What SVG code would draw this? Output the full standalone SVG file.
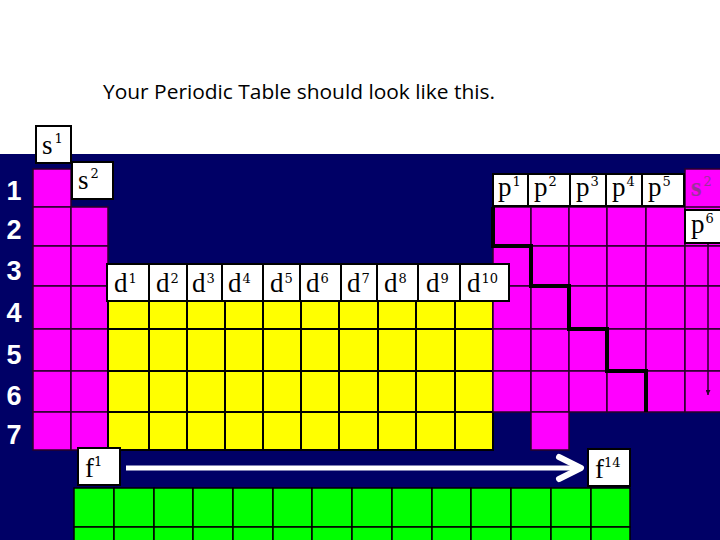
<svg xmlns="http://www.w3.org/2000/svg" width="720" height="540" viewBox="0 0 720 540">
<style>
.pk{fill:#FF00FF;stroke:#2a002a;stroke-width:1.5}
.yl{fill:#FFFF00;stroke:#000;stroke-width:2}
.gr{fill:#00FF00;stroke:#000;stroke-width:1.5}
.lbl{fill:#fff;stroke:#000;stroke-width:2}
.t{font-family:"Liberation Serif","Times New Roman",serif;font-size:27px;fill:#000}
.sup{font-family:"DejaVu Serif","Liberation Serif",serif;font-size:13px}
.num{font-family:"Liberation Sans",Arial,sans-serif;font-size:27px;font-weight:bold;fill:#fff;text-anchor:middle}
</style>
<defs>
<marker id="ah" viewBox="0 0 8 8" refX="8" refY="4" markerWidth="5" markerHeight="5" orient="auto" markerUnits="userSpaceOnUse">
<path d="M0,0 L8,4 L0,8 Z" fill="#2a002a"/>
</marker>
</defs>
<rect x="0" y="0" width="720" height="540" fill="#fff"/>
<rect x="0" y="154" width="720" height="386" fill="#000066"/>
<text x="103" y="99" font-family="'Open Sans','Liberation Sans',sans-serif" font-size="20" fill="#000" textLength="392" lengthAdjust="spacingAndGlyphs">Your Periodic Table should look like this.</text>

<g id="period-numbers">
<text class="num" x="14" y="200">1</text>
<text class="num" x="14" y="239">2</text>
<text class="num" x="14" y="280">3</text>
<text class="num" x="14" y="322">4</text>
<text class="num" x="14" y="364">5</text>
<text class="num" x="14" y="405">6</text>
<text class="num" x="14" y="444">7</text>
</g>

<g id="s-block">
<rect class="pk" x="33" y="169" width="38" height="38"/>
<rect class="pk" x="33" y="207" width="38" height="39"/>
<rect class="pk" x="33" y="246" width="38" height="40"/>
<rect class="pk" x="33" y="286" width="38" height="43"/>
<rect class="pk" x="33" y="329" width="38" height="42"/>
<rect class="pk" x="33" y="371" width="38" height="41"/>
<rect class="pk" x="33" y="412" width="38" height="38"/>
<rect class="pk" x="71" y="207" width="37" height="39"/>
<rect class="pk" x="71" y="246" width="37" height="40"/>
<rect class="pk" x="71" y="286" width="37" height="43"/>
<rect class="pk" x="71" y="329" width="37" height="42"/>
<rect class="pk" x="71" y="371" width="37" height="41"/>
<rect class="pk" x="71" y="412" width="37" height="38"/>
</g>

<g id="d-block">
<rect class="yl" x="108" y="286" width="41" height="43"/><rect class="yl" x="149" y="286" width="38" height="43"/><rect class="yl" x="187" y="286" width="38" height="43"/><rect class="yl" x="225" y="286" width="38" height="43"/><rect class="yl" x="263" y="286" width="38" height="43"/><rect class="yl" x="301" y="286" width="38" height="43"/><rect class="yl" x="339" y="286" width="39" height="43"/><rect class="yl" x="378" y="286" width="38" height="43"/><rect class="yl" x="416" y="286" width="39" height="43"/><rect class="yl" x="455" y="286" width="38" height="43"/>
<rect class="yl" x="108" y="329" width="41" height="42"/><rect class="yl" x="149" y="329" width="38" height="42"/><rect class="yl" x="187" y="329" width="38" height="42"/><rect class="yl" x="225" y="329" width="38" height="42"/><rect class="yl" x="263" y="329" width="38" height="42"/><rect class="yl" x="301" y="329" width="38" height="42"/><rect class="yl" x="339" y="329" width="39" height="42"/><rect class="yl" x="378" y="329" width="38" height="42"/><rect class="yl" x="416" y="329" width="39" height="42"/><rect class="yl" x="455" y="329" width="38" height="42"/>
<rect class="yl" x="108" y="371" width="41" height="41"/><rect class="yl" x="149" y="371" width="38" height="41"/><rect class="yl" x="187" y="371" width="38" height="41"/><rect class="yl" x="225" y="371" width="38" height="41"/><rect class="yl" x="263" y="371" width="38" height="41"/><rect class="yl" x="301" y="371" width="38" height="41"/><rect class="yl" x="339" y="371" width="39" height="41"/><rect class="yl" x="378" y="371" width="38" height="41"/><rect class="yl" x="416" y="371" width="39" height="41"/><rect class="yl" x="455" y="371" width="38" height="41"/>
<rect class="yl" x="108" y="412" width="41" height="38"/><rect class="yl" x="149" y="412" width="38" height="38"/><rect class="yl" x="187" y="412" width="38" height="38"/><rect class="yl" x="225" y="412" width="38" height="38"/><rect class="yl" x="263" y="412" width="38" height="38"/><rect class="yl" x="301" y="412" width="38" height="38"/><rect class="yl" x="339" y="412" width="39" height="38"/><rect class="yl" x="378" y="412" width="38" height="38"/><rect class="yl" x="416" y="412" width="39" height="38"/><rect class="yl" x="455" y="412" width="38" height="38"/>
</g>

<g id="p-block">
<rect class="pk" x="493" y="207" width="38" height="39"/><rect class="pk" x="531" y="207" width="38" height="39"/><rect class="pk" x="569" y="207" width="38" height="39"/><rect class="pk" x="607" y="207" width="39" height="39"/><rect class="pk" x="646" y="207" width="39" height="39"/>
<rect class="pk" x="493" y="246" width="38" height="40"/><rect class="pk" x="531" y="246" width="38" height="40"/><rect class="pk" x="569" y="246" width="38" height="40"/><rect class="pk" x="607" y="246" width="39" height="40"/><rect class="pk" x="646" y="246" width="39" height="40"/>
<rect class="pk" x="493" y="286" width="38" height="43"/><rect class="pk" x="531" y="286" width="38" height="43"/><rect class="pk" x="569" y="286" width="38" height="43"/><rect class="pk" x="607" y="286" width="39" height="43"/><rect class="pk" x="646" y="286" width="39" height="43"/>
<rect class="pk" x="493" y="329" width="38" height="42"/><rect class="pk" x="531" y="329" width="38" height="42"/><rect class="pk" x="569" y="329" width="38" height="42"/><rect class="pk" x="607" y="329" width="39" height="42"/><rect class="pk" x="646" y="329" width="39" height="42"/>
<rect class="pk" x="493" y="371" width="38" height="41"/><rect class="pk" x="531" y="371" width="38" height="41"/><rect class="pk" x="569" y="371" width="38" height="41"/><rect class="pk" x="607" y="371" width="39" height="41"/><rect class="pk" x="646" y="371" width="39" height="41"/>
<rect class="pk" x="531" y="412" width="38" height="38"/>
<rect class="pk" x="685" y="169" width="40" height="41"/>
<rect class="pk" x="685" y="207" width="40" height="39"/>
<rect class="pk" x="685" y="246" width="40" height="40"/>
<rect class="pk" x="685" y="286" width="40" height="43"/>
<rect class="pk" x="685" y="329" width="40" height="42"/>
<rect class="pk" x="685" y="371" width="40" height="41"/>
<text x="691" y="196" font-family="'Liberation Serif',serif" font-size="27" font-weight="bold" fill="#993399">s<tspan font-family="'DejaVu Serif',serif" font-size="13" font-weight="normal" dx="2" dy="-10">2</tspan></text>
</g>

<g id="f-block">
<rect class="gr" x="74" y="488" width="40" height="39"/><rect class="gr" x="114" y="488" width="40" height="39"/><rect class="gr" x="154" y="488" width="39" height="39"/><rect class="gr" x="193" y="488" width="40" height="39"/><rect class="gr" x="233" y="488" width="40" height="39"/><rect class="gr" x="273" y="488" width="39" height="39"/><rect class="gr" x="312" y="488" width="40" height="39"/><rect class="gr" x="352" y="488" width="40" height="39"/><rect class="gr" x="392" y="488" width="40" height="39"/><rect class="gr" x="432" y="488" width="39" height="39"/><rect class="gr" x="471" y="488" width="40" height="39"/><rect class="gr" x="511" y="488" width="40" height="39"/><rect class="gr" x="551" y="488" width="40" height="39"/><rect class="gr" x="591" y="488" width="39" height="39"/>
<rect class="gr" x="74" y="527" width="40" height="40"/><rect class="gr" x="114" y="527" width="40" height="40"/><rect class="gr" x="154" y="527" width="39" height="40"/><rect class="gr" x="193" y="527" width="40" height="40"/><rect class="gr" x="233" y="527" width="40" height="40"/><rect class="gr" x="273" y="527" width="39" height="40"/><rect class="gr" x="312" y="527" width="40" height="40"/><rect class="gr" x="352" y="527" width="40" height="40"/><rect class="gr" x="392" y="527" width="40" height="40"/><rect class="gr" x="432" y="527" width="39" height="40"/><rect class="gr" x="471" y="527" width="40" height="40"/><rect class="gr" x="511" y="527" width="40" height="40"/><rect class="gr" x="551" y="527" width="40" height="40"/><rect class="gr" x="591" y="527" width="39" height="40"/>
</g>

<g id="connectors">
<polyline points="493,207 493,246 531,246 531,286 569,286 569,329 607,329 607,371 646,371 646,412" fill="none" stroke="#000" stroke-width="4"/>
<line x1="708" y1="243" x2="708" y2="395" stroke="#2a002a" stroke-width="1.5" marker-end="url(#ah)"/>
<line x1="126" y1="468" x2="578" y2="468" stroke="#fff" stroke-width="5"/>
<polyline points="559,457 581,468 559,479" fill="none" stroke="#fff" stroke-width="6" stroke-linecap="round" stroke-linejoin="round"/>
</g>

<g id="label-s1"><rect class="lbl" x="36" y="126" width="35" height="37"/><text class="t" x="42" y="154">s<tspan class="sup" dx="2" dy="-11">1</tspan></text></g>
<g id="label-s2"><rect class="lbl" x="72" y="162" width="41" height="37"/><text class="t" x="78" y="189">s<tspan class="sup" dx="2" dy="-11">2</tspan></text></g>

<g id="label-p1"><rect class="lbl" x="493" y="174" width="35" height="32"/><text class="t" x="498" y="196">p<tspan class="sup" dx="1" dy="-10">1</tspan></text></g>
<g id="label-p2"><rect class="lbl" x="528" y="174" width="42" height="32"/><text class="t" x="534" y="196">p<tspan class="sup" dx="1" dy="-10">2</tspan></text></g>
<g id="label-p3"><rect class="lbl" x="570" y="174" width="36" height="32"/><text class="t" x="576" y="196">p<tspan class="sup" dx="1" dy="-10">3</tspan></text></g>
<g id="label-p4"><rect class="lbl" x="606" y="174" width="36" height="32"/><text class="t" x="612" y="196">p<tspan class="sup" dx="1" dy="-10">4</tspan></text></g>
<g id="label-p5"><rect class="lbl" x="642" y="174" width="42" height="32"/><text class="t" x="648" y="196">p<tspan class="sup" dx="1" dy="-10">5</tspan></text></g>
<g id="label-p6"><rect class="lbl" x="685" y="210" width="38" height="33"/><text class="t" x="691" y="233">p<tspan class="sup" dx="1" dy="-10">6</tspan></text></g>

<g id="label-d1"><rect class="lbl" x="107" y="264" width="42" height="37"/><text class="t" x="114" y="292">d<tspan class="sup" dx="1" dy="-9">1</tspan></text></g>
<g id="label-d2"><rect class="lbl" x="149" y="264" width="38" height="37"/><text class="t" x="156" y="292">d<tspan class="sup" dx="1" dy="-9">2</tspan></text></g>
<g id="label-d3"><rect class="lbl" x="187" y="264" width="35" height="37"/><text class="t" x="192" y="292">d<tspan class="sup" dx="1" dy="-9">3</tspan></text></g>
<g id="label-d4"><rect class="lbl" x="222" y="264" width="41" height="37"/><text class="t" x="228" y="292">d<tspan class="sup" dx="1" dy="-9">4</tspan></text></g>
<g id="label-d5"><rect class="lbl" x="263" y="264" width="37" height="37"/><text class="t" x="270" y="292">d<tspan class="sup" dx="1" dy="-9">5</tspan></text></g>
<g id="label-d6"><rect class="lbl" x="300" y="264" width="41" height="37"/><text class="t" x="306" y="292">d<tspan class="sup" dx="1" dy="-9">6</tspan></text></g>
<g id="label-d7"><rect class="lbl" x="341" y="264" width="36" height="37"/><text class="t" x="347" y="292">d<tspan class="sup" dx="1" dy="-9">7</tspan></text></g>
<g id="label-d8"><rect class="lbl" x="377" y="264" width="41" height="37"/><text class="t" x="384" y="292">d<tspan class="sup" dx="1" dy="-9">8</tspan></text></g>
<g id="label-d9"><rect class="lbl" x="418" y="264" width="42" height="37"/><text class="t" x="426" y="292">d<tspan class="sup" dx="1" dy="-9">9</tspan></text></g>
<g id="label-d10"><rect class="lbl" x="460" y="264" width="49" height="37"/><text class="t" x="467" y="292">d<tspan class="sup" dx="1" dy="-9">10</tspan></text></g>

<g id="label-f1"><rect class="lbl" x="78" y="448" width="42" height="37"/><text class="t" x="85" y="477">f<tspan class="sup" dy="-11">1</tspan></text></g>
<g id="label-f14"><rect class="lbl" x="588" y="449" width="42" height="37"/><text class="t" x="595" y="478">f<tspan class="sup" dy="-11">14</tspan></text></g>
</svg>
